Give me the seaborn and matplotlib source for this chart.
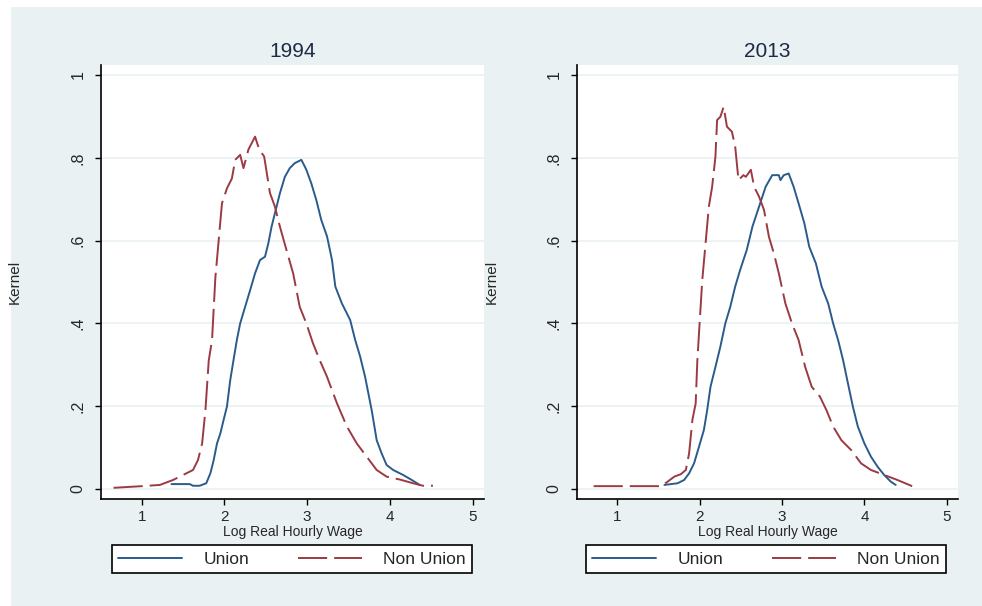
import numpy as np
import pandas as pd
import matplotlib
matplotlib.use("Agg")
import matplotlib.pyplot as plt
import seaborn as sns
from matplotlib.patches import Rectangle

sns.set_theme(style="white")
plt.rcParams['font.family'] = ['Liberation Sans', 'DejaVu Sans']

# ---------------- data ----------------
years = ["1994", "2013"]
series_names = ["Union", "Non Union"]

nonunion_1994_x = [0.66, 1.00, 1.22, 1.38, 1.50, 1.62, 1.68, 1.73, 1.77, 1.81, 1.85, 1.89, 1.93, 1.97,
                   2.03, 2.09, 2.13, 2.19, 2.23, 2.29, 2.37, 2.42, 2.48, 2.55, 2.61, 2.67, 2.75, 2.83,
                   2.91, 2.99, 3.07, 3.15, 3.24, 3.36, 3.48, 3.60, 3.72, 3.84, 3.96, 4.12, 4.28, 4.40, 4.52]
nonunion_1994_y = [0.003, 0.007, 0.010, 0.022, 0.034, 0.046, 0.070, 0.110, 0.190, 0.310, 0.360, 0.510, 0.600, 0.690,
                   0.726, 0.750, 0.795, 0.807, 0.775, 0.820, 0.851, 0.820, 0.803, 0.715, 0.682, 0.634, 0.577, 0.521,
                   0.440, 0.400, 0.352, 0.312, 0.271, 0.207, 0.151, 0.110, 0.078, 0.046, 0.030, 0.023, 0.014, 0.008, 0.008]

union_1994_x = [1.36, 1.58, 1.62, 1.70, 1.78, 1.83, 1.87, 1.91, 1.95, 1.99, 2.03, 2.07, 2.11, 2.15, 2.19,
                2.25, 2.31, 2.37, 2.43, 2.49, 2.53, 2.57, 2.61, 2.67, 2.73, 2.79, 2.85, 2.93, 2.99, 3.05,
                3.11, 3.17, 3.24, 3.30, 3.34, 3.42, 3.52, 3.58, 3.64, 3.70, 3.78, 3.84, 3.90, 3.96, 4.04,
                4.16, 4.28, 4.36]
union_1994_y = [0.012, 0.012, 0.008, 0.008, 0.014, 0.038, 0.070, 0.110, 0.134, 0.167, 0.199, 0.263, 0.312, 0.360, 0.400,
                0.440, 0.480, 0.521, 0.553, 0.561, 0.593, 0.634, 0.666, 0.714, 0.754, 0.775, 0.787, 0.795, 0.771, 0.738,
                0.698, 0.650, 0.610, 0.553, 0.489, 0.448, 0.408, 0.360, 0.320, 0.271, 0.190, 0.118, 0.086, 0.058, 0.046,
                0.034, 0.020, 0.010]

nonunion_2013_x = [0.71, 1.53, 1.61, 1.69, 1.77, 1.83, 1.87, 1.91, 1.95, 1.97, 2.00, 2.03, 2.07, 2.11, 2.15,
                   2.19, 2.21, 2.25, 2.29, 2.33, 2.39, 2.43, 2.47, 2.53, 2.56, 2.62, 2.66, 2.72, 2.78, 2.84,
                   2.90, 2.96, 3.04, 3.12, 3.20, 3.28, 3.36, 3.46, 3.54, 3.62, 3.72, 3.84, 3.96, 4.08, 4.24,
                   4.40, 4.58]
nonunion_2013_y = [0.007, 0.007, 0.018, 0.030, 0.036, 0.046, 0.086, 0.167, 0.207, 0.310, 0.408, 0.505, 0.593, 0.682, 0.730,
                   0.803, 0.891, 0.899, 0.923, 0.875, 0.863, 0.827, 0.746, 0.758, 0.754, 0.771, 0.730, 0.706, 0.674, 0.609,
                   0.569, 0.521, 0.448, 0.400, 0.360, 0.295, 0.247, 0.223, 0.190, 0.151, 0.118, 0.094, 0.062, 0.046, 0.034,
                   0.022, 0.007]

union_2013_x = [1.57, 1.73, 1.81, 1.87, 1.93, 1.99, 2.05, 2.09, 2.13, 2.19, 2.25, 2.31, 2.37, 2.43, 2.49,
                2.57, 2.64, 2.72, 2.80, 2.88, 2.96, 2.98, 3.02, 3.08, 3.14, 3.20, 3.27, 3.33, 3.41, 3.48,
                3.56, 3.62, 3.68, 3.74, 3.80, 3.86, 3.92, 4.00, 4.08, 4.16, 4.24, 4.32, 4.38]
union_2013_y = [0.010, 0.014, 0.022, 0.038, 0.062, 0.102, 0.143, 0.191, 0.247, 0.295, 0.344, 0.400, 0.440, 0.489, 0.529,
                0.577, 0.634, 0.682, 0.730, 0.758, 0.758, 0.746, 0.758, 0.762, 0.730, 0.690, 0.642, 0.585, 0.545, 0.489,
                0.448, 0.400, 0.360, 0.312, 0.255, 0.199, 0.151, 0.110, 0.078, 0.054, 0.034, 0.018, 0.010]

x_ticks = [1, 2, 3, 4, 5]
y_ticks = [0, 0.2, 0.4, 0.6, 0.8, 1.0]
y_tick_labels = ["0", ".2", ".4", ".6", ".8", "1"]

# ---------------- build frames ----------------
def frame(year, ux, uy, nx, ny):
    d1 = pd.DataFrame({"x": ux, "y": uy, "series": "Union", "year": year})
    d2 = pd.DataFrame({"x": nx, "y": ny, "series": "Non Union", "year": year})
    return pd.concat([d1, d2], ignore_index=True)

data = {
    "1994": frame("1994", union_1994_x, union_1994_y, nonunion_1994_x, nonunion_1994_y),
    "2013": frame("2013", union_2013_x, union_2013_y, nonunion_2013_x, nonunion_2013_y),
}

BLUE = "#2a5b8c"
RED = "#9b3a42"
PANEL = "#eaf1f3"
DASH = (15, 3.6)
palette = {"Union": BLUE, "Non Union": RED}
dashes = {"Union": "", "Non Union": DASH}

# ---------------- figure ----------------
W, H = 982, 606
fig = plt.figure(figsize=(W / 100, H / 100), dpi=100)
fig.patch.set_facecolor("white")
fig.patches.append(Rectangle((11 / W, 0), 1 - 11 / W, 1 - 7 / H, transform=fig.transFigure,
                             facecolor=PANEL, edgecolor="none", zorder=-10))

ax_rects = {
    "1994": (101 / W, 1 - 499 / H, 383 / W, 434 / H),
    "2013": (577 / W, 1 - 499 / H, 381 / W, 434 / H),
}
leg_rects = {
    "1994": (112 / W, 1 - 573 / H, 360 / W, 28 / H),
    "2013": (586 / W, 1 - 573 / H, 360 / W, 28 / H),
}

for year in years:
    ax = fig.add_axes(ax_rects[year])
    ax.set_facecolor("white")
    for yt in y_ticks:
        ax.axhline(yt, color=PANEL, lw=1.2, zorder=0)
    sns.lineplot(data=data[year], x="x", y="y", hue="series", style="series",
                 hue_order=series_names, style_order=series_names,
                 palette=palette, dashes=dashes, estimator=None, sort=False,
                 lw=1.4, ax=ax, legend=False)
    ax.set_xlim(0.508, 5.137)
    ax.set_ylim(-0.024, 1.024)
    ax.set_xticks(x_ticks)
    ax.set_xticklabels([str(t) for t in x_ticks], fontsize=11)
    ax.set_yticks(y_ticks)
    ax.set_yticklabels(y_tick_labels, fontsize=11.5, rotation=90, va="center")
    ax.tick_params(axis="both", which="both", direction="out", length=4, width=1,
                   color="black", left=True, bottom=True)
    ax.tick_params(axis="x", pad=4)
    ax.tick_params(axis="y", pad=7)
    for s in ["top", "right"]:
        ax.spines[s].set_visible(False)
    for s in ["left", "bottom"]:
        ax.spines[s].set_color("black")
        ax.spines[s].set_linewidth(1.2)
    ax.set_title(year, fontsize=15, color="#1c2a44", pad=6)
    ax.set_xlabel("Log Real Hourly Wage", fontsize=10, labelpad=0.5)
    ax.set_ylabel("Kernel", fontsize=11)
    ax.yaxis.set_label_coords(-79 / 383, 0.5)

    handles = [
        plt.Line2D([], [], color=BLUE, lw=1.4),
        plt.Line2D([], [], color=RED, lw=1.4, dashes=DASH),
    ]
    lx, ly, lw_, lh = leg_rects[year]
    leg = ax.legend(handles, series_names, loc="center", ncol=2, mode="expand",
                    bbox_to_anchor=(lx, ly, lw_, lh), bbox_transform=fig.transFigure,
                    fontsize=12.5, frameon=True, fancybox=False, handlelength=3.7,
                    handletextpad=1.2, columnspacing=2.5, borderaxespad=0, borderpad=0.35)
    leg.get_frame().set_edgecolor("black")
    leg.get_frame().set_linewidth(1.2)
    leg.get_frame().set_facecolor("white")
    leg.get_frame().set_alpha(1)

fig.savefig("out.png", dpi=100, facecolor=fig.get_facecolor())
